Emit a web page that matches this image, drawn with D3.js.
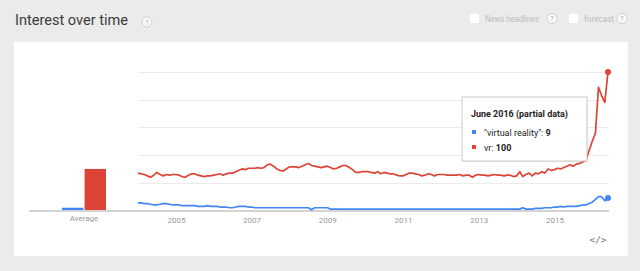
<!DOCTYPE html>
<html>
<head>
<meta charset="utf-8">
<script src="https://cdn.jsdelivr.net/npm/d3@7"></script>
<style>
  html, body { margin: 0; padding: 0; background: #ebebeb; }
  svg { display: block; font-family: Roboto, Arial, sans-serif; }
</style>
</head>
<body>
<svg id="chart" width="640" height="271"></svg>
<script>
// monthly data, Jan 2004 .. Jun 2016
const seriesNames = ['"virtual reality"', 'vr'];
const seriesColors = ['#4285f4', '#db4437'];
const averages = [2, 30];
const yearTicks = [2005, 2007, 2009, 2011, 2013, 2015];

const vrValues = [
  27, 26.5, 26, 25, 24, 25.5, 27.5, 26, 25, 26, 25.5, 26,
  26, 25.5, 24.5, 24, 25.5, 26.5, 26.5, 25.5, 25, 24.5, 25, 25,
  25.5, 26, 26.5, 25.5, 26.5, 27, 27, 28, 29, 30, 29.5, 30.5,
  30.5, 30.5, 31, 30.5, 31, 33, 33.5, 32, 30, 29, 28.5, 30,
  31.5, 31.5, 31.5, 31, 32, 33, 34, 32.5, 32, 31.5, 31, 31.5,
  32, 31, 30, 30.5, 31.5, 32.5, 32.5, 31, 29.5, 27.5, 27.5, 28,
  28, 28, 27.5, 27, 28, 26.5, 27.5, 27, 26.5, 26.5, 25.5, 25,
  25, 26, 27, 27, 26.5, 26, 25, 25.5, 26.5, 26, 25, 26,
  26, 26, 25.5, 25.5, 25.5, 25.5, 26, 25, 25.5, 25.5, 24, 25.5,
  26, 25.5, 25.5, 25, 25.5, 26, 25.5, 25.5, 25, 25.5, 25.5, 24.5,
  25, 28, 24.5, 26, 27, 25, 27, 26.5, 28, 27, 30, 29,
  29.5, 30.5, 30, 31, 32, 33, 32, 33.5, 34, 35, 36.5, 43,
  50, 56, 89, 83, 78, 100
];

const virtualRealityValues = [
  5.5, 5.5, 5, 5, 4.5, 4, 4, 4.5, 5, 5, 4.5, 4,
  4, 4, 3.5, 3.5, 3.5, 3.5, 3.5, 3, 3, 3, 3.5, 3,
  3, 3, 2.5, 2.5, 2.5, 2, 2, 2.5, 3, 3, 3, 2.5,
  2.5, 2, 2, 2, 2, 2, 2, 2, 2, 2, 2, 2,
  2, 2, 2, 2, 2, 2, 2, 0.5, 2, 2, 2, 2,
  2, 1, 1, 1, 1, 1, 1, 1, 1, 1, 1, 1,
  1, 1, 1, 1, 1, 1, 1, 1, 1, 1, 1, 1,
  1, 1, 1, 1, 1, 1, 1, 1, 1, 1, 1, 1,
  1, 1, 1, 1, 1, 1, 1, 1, 1, 1, 1, 1,
  1, 1, 1, 1, 1, 1, 1, 1, 1, 1, 1, 1,
  1, 1, 2, 1, 1, 1, 1.5, 1.5, 1.5, 2, 2, 2,
  2.5, 2.5, 3, 2.5, 3, 3, 3, 3, 3.5, 4, 4, 5,
  6, 8, 10, 10, 7, 9
];

const svg = d3.select("#chart");

// white panel
svg.append("rect")
  .attr("x", 14).attr("y", 42)
  .attr("width", 614).attr("height", 214)
  .attr("fill", "#fff");

// header
svg.append("text")
  .attr("x", 15).attr("y", 25)
  .attr("font-size", 15.5)
  .attr("fill", "#3c3c3c")
  .attr("textLength", 113).attr("lengthAdjust", "spacingAndGlyphs")
  .text("Interest over time");

function helpIcon(cx, cy) {
  let g = svg.append("g");
  g.append("circle").attr("cx", cx).attr("cy", cy).attr("r", 5)
    .attr("fill", "#fafafa").attr("stroke", "#d0d0d0").attr("stroke-width", 1);
  g.append("text").attr("x", cx).attr("y", cy + 2.5)
    .attr("text-anchor", "middle").attr("font-size", 7).attr("fill", "#aaa")
    .text("?");
}
helpIcon(147, 22);

function checkbox(x, label, len, helpX) {
  svg.append("rect").attr("x", x).attr("y", 14).attr("width", 9).attr("height", 9)
    .attr("fill", "#fff");
  svg.append("text").attr("x", x + 15).attr("y", 21.5)
    .attr("font-size", 9).attr("fill", "#bbb")
    .attr("textLength", len).attr("lengthAdjust", "spacingAndGlyphs")
    .text(label);
  helpIcon(helpX, 18.5);
}
checkbox(470, "News headlines", 54, 552);
checkbox(569, "forecast", 30, 622);

// scales
const months = vrValues.map((d, i) => new Date(2004, i, 1));
const x = d3.scaleTime()
  .domain([months[0], months[months.length - 1]])
  .range([138, 608]);
const y = d3.scaleLinear().domain([0, 100]).range([210.5, 72]);

// gridlines
svg.append("g").selectAll("line")
  .data([20, 40, 60, 80, 100])
  .enter().append("line")
  .attr("x1", 138).attr("x2", 609)
  .attr("y1", d => Math.round(y(d)) + 0.5).attr("y2", d => Math.round(y(d)) + 0.5)
  .attr("stroke", "#ebebeb");

// average bars
const band = d3.scaleBand().domain(seriesNames).range([62, 106]).paddingInner(0.05);
svg.append("g").selectAll("rect")
  .data(averages)
  .enter().append("rect")
  .attr("x", (d, i) => band(seriesNames[i]))
  .attr("width", band.bandwidth())
  .attr("y", d => y(d))
  .attr("height", d => y(0) - y(d))
  .attr("fill", (d, i) => seriesColors[i]);

svg.append("text")
  .attr("x", 84).attr("y", 221)
  .attr("text-anchor", "middle")
  .attr("font-size", 8).attr("fill", "#999")
  .text("Average");

// baseline
svg.append("line")
  .attr("x1", 29).attr("x2", 609)
  .attr("y1", 211).attr("y2", 211)
  .attr("stroke", "#d4d4d4").attr("stroke-width", 2);

// x axis
const xAxis = svg.append("g")
  .attr("transform", "translate(0,211)")
  .call(d3.axisBottom(x)
    .tickValues(yearTicks.map(yr => new Date(yr, 0, 1)))
    .tickSize(0).tickPadding(6)
    .tickFormat(d3.timeFormat("%Y")));
xAxis.select(".domain").remove();
xAxis.selectAll("text")
  .attr("font-family", "Roboto, Arial, sans-serif")
  .attr("font-size", 8).attr("fill", "#999");

// lines
const line = d3.line()
  .x((d, i) => x(months[i]))
  .y(d => y(d));

[virtualRealityValues, vrValues].forEach((vals, k) => {
  svg.append("path")
    .datum(vals)
    .attr("d", line)
    .attr("fill", "none")
    .attr("stroke", seriesColors[k])
    .attr("stroke-width", 1.7)
    .attr("stroke-linejoin", "round");
  svg.append("circle")
    .attr("cx", x(months[months.length - 1]))
    .attr("cy", y(vals[vals.length - 1]))
    .attr("r", 3)
    .attr("fill", seriesColors[k]);
});

// tooltip
const tip = svg.append("g").attr("transform", "translate(462,97)");
tip.append("rect")
  .attr("x", 1).attr("y", 1).attr("width", 125).attr("height", 64)
  .attr("fill", "#000").attr("opacity", 0.08);
tip.append("rect")
  .attr("x", 0).attr("y", 0).attr("width", 125).attr("height", 64)
  .attr("fill", "#fff").attr("stroke", "#ccc");
tip.append("text")
  .attr("x", 9).attr("y", 20)
  .attr("font-size", 9.5).attr("font-weight", "bold").attr("fill", "#222")
  .attr("textLength", 97).attr("lengthAdjust", "spacingAndGlyphs")
  .text("June 2016 (partial data)");

const tipRows = [
  { label: seriesNames[0] + ": ", value: virtualRealityValues[virtualRealityValues.length - 1] },
  { label: seriesNames[1] + ": ", value: vrValues[vrValues.length - 1] }
];
tipRows.forEach((r, i) => {
  let ry = 35 + i * 15;
  tip.append("rect")
    .attr("x", 10).attr("y", ry - 2).attr("width", 4).attr("height", 4)
    .attr("fill", seriesColors[i]);
  let t = tip.append("text")
    .attr("x", 22).attr("y", ry + 3.5)
    .attr("font-size", 9).attr("fill", "#222");
  t.append("tspan").text(r.label);
  t.append("tspan").attr("font-weight", "bold").text(r.value);
});

// embed icon
svg.append("text")
  .attr("x", 598).attr("y", 243)
  .attr("text-anchor", "middle")
  .attr("font-size", 9.5).attr("fill", "#777")
  .attr("font-family", "DejaVu Sans Mono, monospace")
  .text("</>");
</script>
</body>
</html>
